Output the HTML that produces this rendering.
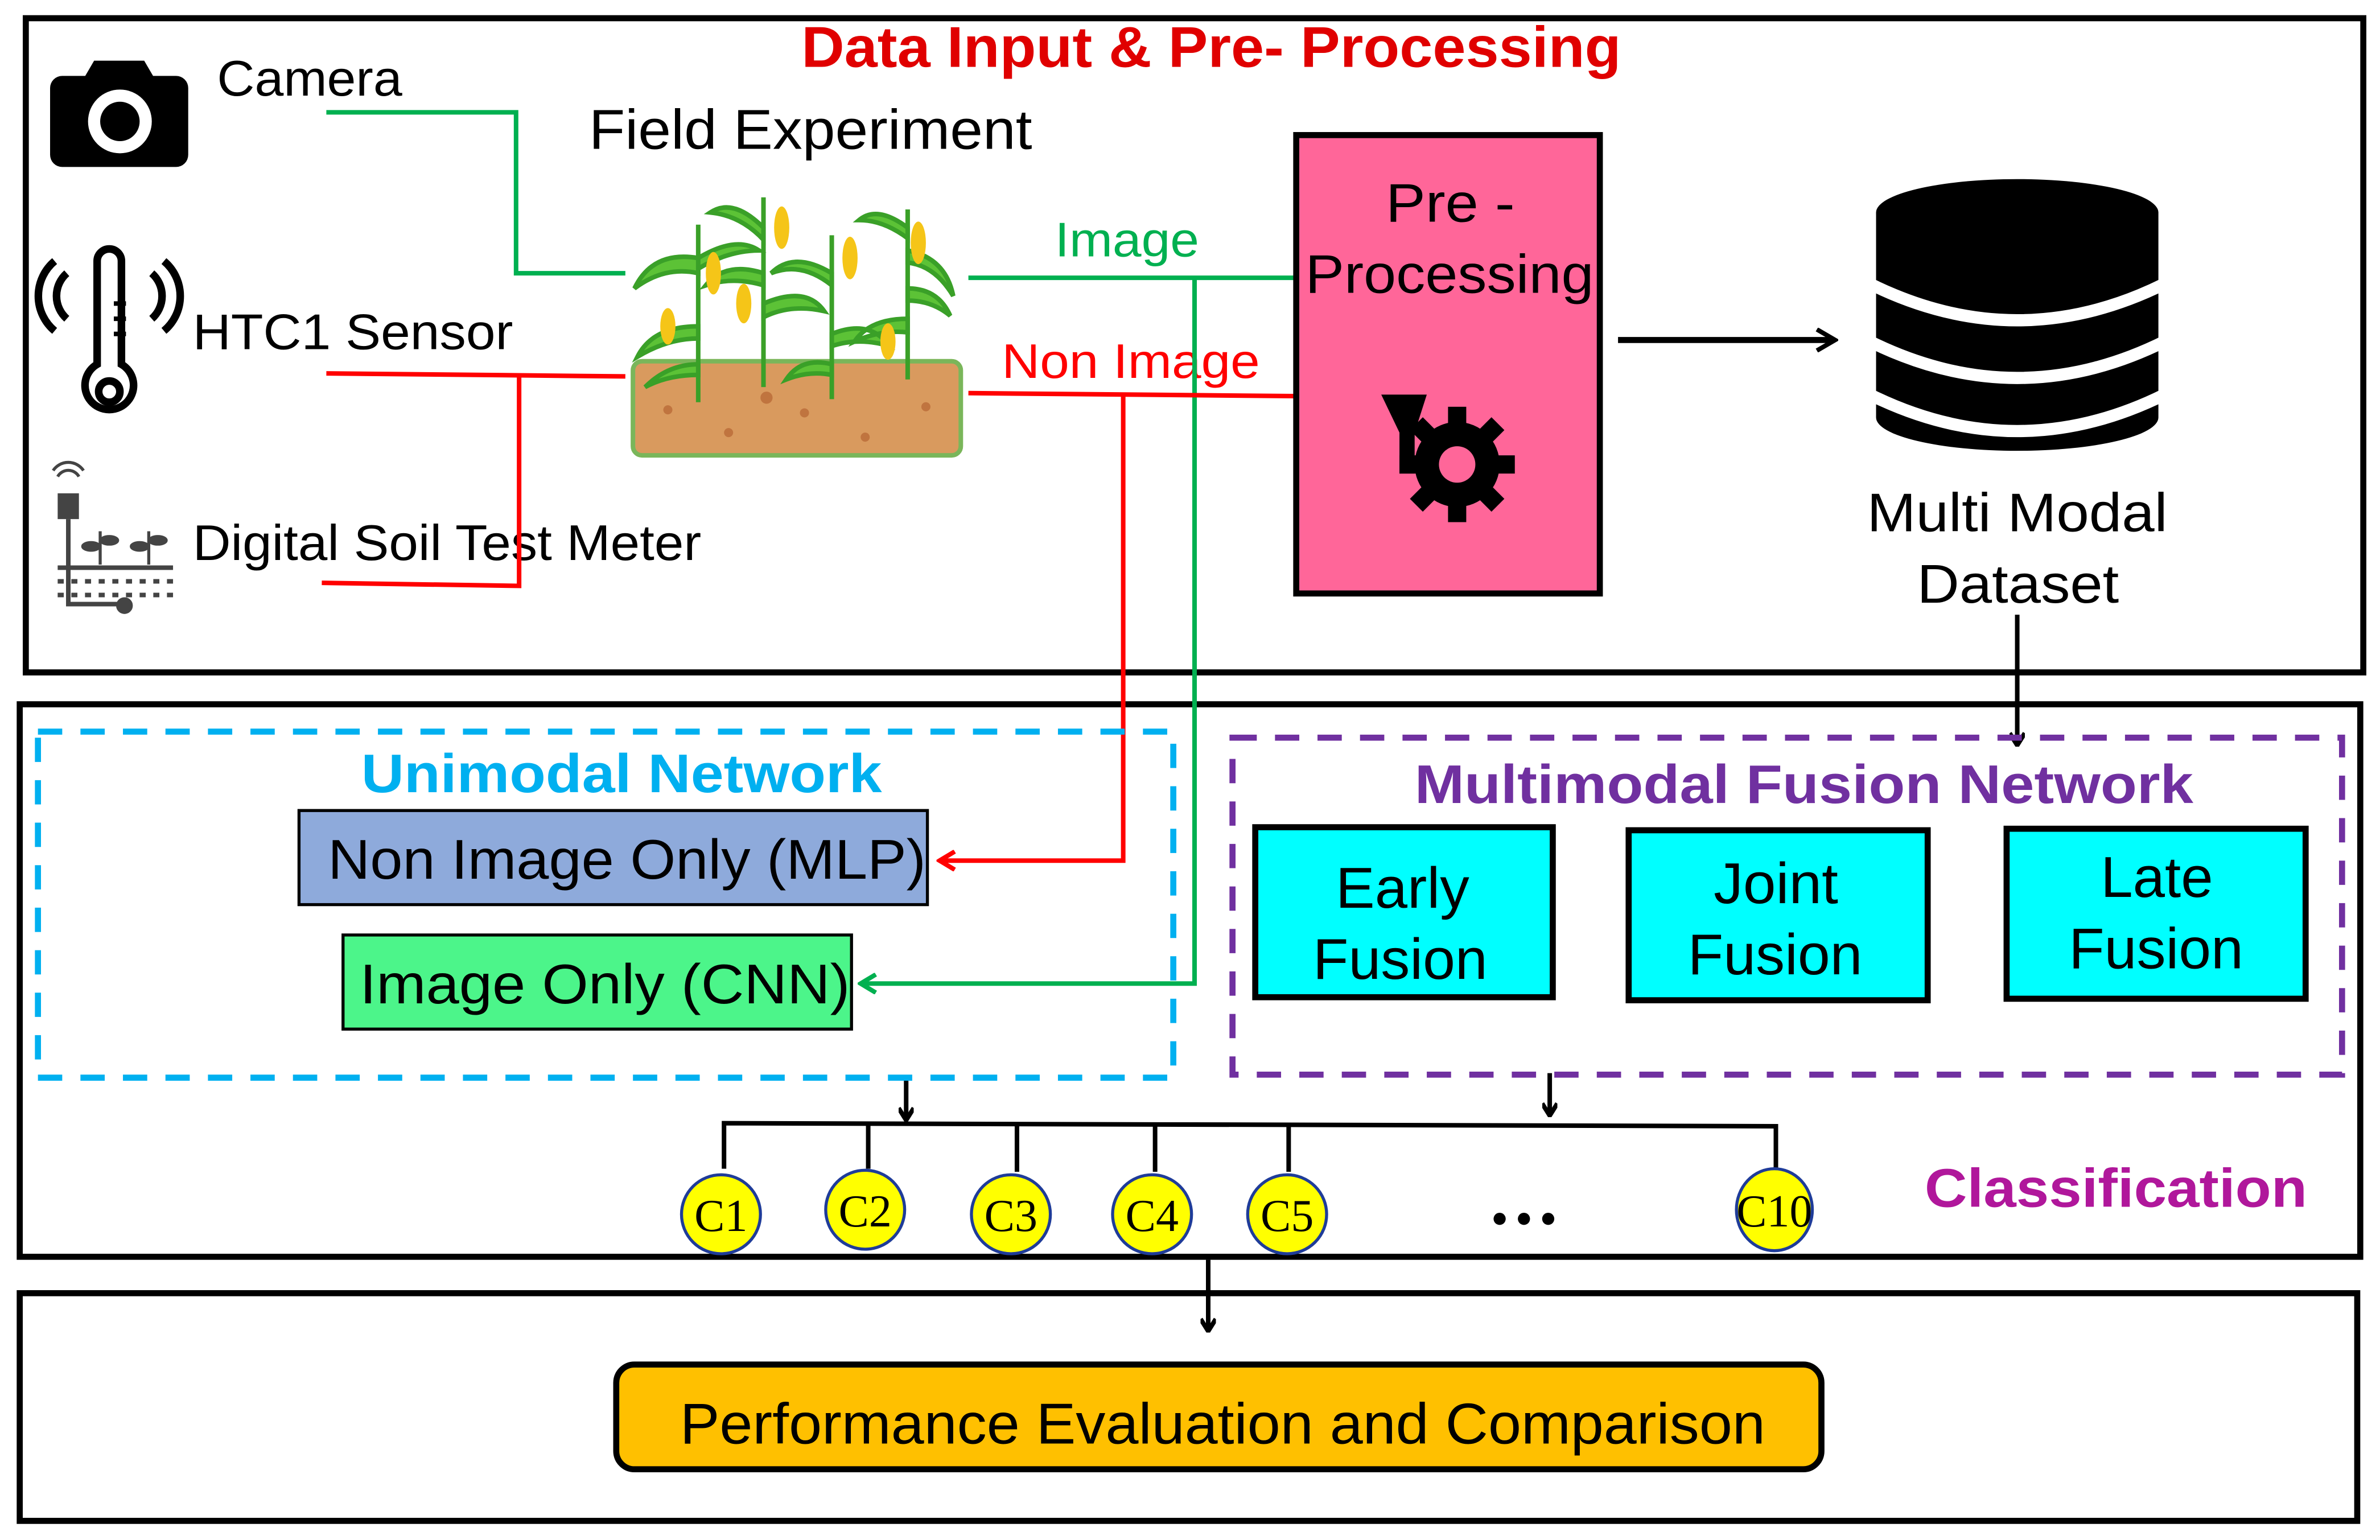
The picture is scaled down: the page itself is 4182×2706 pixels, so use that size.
<!DOCTYPE html>
<html><head><meta charset="utf-8"><style>
html,body{margin:0;padding:0;background:#fff}
svg{display:block}
</style></head><body>
<svg width="4182" height="2706" viewBox="0 0 1568 1014.6" preserveAspectRatio="none" xmlns="http://www.w3.org/2000/svg" font-family="'Liberation Sans', Arial, sans-serif">
<defs>
<marker id="ab" markerWidth="10" markerHeight="10" refX="8" refY="5" orient="auto" markerUnits="userSpaceOnUse"><path d="M1,0 L9,5 L1,10" fill="none" stroke="#000" stroke-width="3"/></marker>
<marker id="ar" markerWidth="14" markerHeight="14" refX="11" refY="7" orient="auto" markerUnits="userSpaceOnUse"><path d="M2,1 L12,7 L2,13" fill="none" stroke="#f00" stroke-width="3"/></marker>
<marker id="ag" markerWidth="14" markerHeight="14" refX="11" refY="7" orient="auto" markerUnits="userSpaceOnUse"><path d="M2,1 L12,7 L2,13" fill="none" stroke="#00b050" stroke-width="3"/></marker>
<marker id="ak" markerWidth="16" markerHeight="16" refX="13" refY="8" orient="auto" markerUnits="userSpaceOnUse"><path d="M2,1 L14,8 L2,15" fill="none" stroke="#000" stroke-width="3"/></marker>
</defs>
<rect x="17" y="12" width="1540" height="431" fill="none" stroke="#000" stroke-width="4"/>
<rect x="13" y="464" width="1542" height="364" fill="none" stroke="#000" stroke-width="4"/>
<rect x="13" y="852" width="1540" height="150" fill="none" stroke="#000" stroke-width="4"/>

<text x="528" y="44" font-size="38" font-weight="bold" fill="#e00000" textLength="540" lengthAdjust="spacingAndGlyphs">Data Input &amp; Pre- Processing</text>

<!-- camera -->
<rect x="33" y="50" width="91" height="60" rx="8" fill="#000"/>
<path d="M55,52 L62,40 L95,40 L102,52 Z" fill="#000"/>
<circle cx="79" cy="80" r="21" fill="#fff"/><circle cx="79" cy="80" r="13" fill="#000"/>
<text x="143" y="63" font-size="33" fill="#000" textLength="122" lengthAdjust="spacingAndGlyphs">Camera</text>
<text x="388" y="98" font-size="37" fill="#000" textLength="292" lengthAdjust="spacingAndGlyphs">Field Experiment</text>

<!-- thermometer -->
<g fill="none" stroke="#000" stroke-width="5">
<path d="M64,172 a8,8 0 0 1 16,0 v68 a16,16 0 1 1 -16,0 Z"/>
<circle cx="72" cy="258" r="7"/>
<path d="M44,180 a20,20 0 0 0 0,30 M36,172 a30,30 0 0 0 0,46 M100,180 a20,20 0 0 1 0,30 M108,172 a30,30 0 0 1 0,46"/>
</g>
<path d="M75,200h8M75,210h8M75,220h8" stroke="#000" stroke-width="3"/>
<text x="127" y="230" font-size="33" fill="#000" textLength="211" lengthAdjust="spacingAndGlyphs">HTC1 Sensor</text>

<!-- soil meter -->
<g fill="#444" stroke="#444">
<rect x="38" y="325" width="14" height="17" stroke="none"/>
<path d="M38,314 a8,8 0 0 1 14,0 M35,310 a12,12 0 0 1 20,0" fill="none" stroke-width="2"/>
<path d="M45,342 V398 H78" fill="none" stroke-width="3"/>
<circle cx="82" cy="399" r="5"/>
<path d="M38,374 H114" stroke-width="3"/>
<path d="M66,372 V350 M98,372 V350" stroke-width="2"/>
<ellipse cx="60" cy="360" rx="6" ry="3"/><ellipse cx="72" cy="356" rx="6" ry="3"/><ellipse cx="92" cy="360" rx="6" ry="3"/><ellipse cx="104" cy="356" rx="6" ry="3"/>
<path d="M38,383 H114 M38,392 H114" stroke-width="3" stroke-dasharray="4,5" fill="none"/>
</g>
<text x="127" y="369" font-size="33" fill="#000" textLength="335" lengthAdjust="spacingAndGlyphs">Digital Soil Test Meter</text>

<!-- plants -->
<rect x="417" y="238" width="216" height="62" rx="6" fill="#d99a5e" stroke="#7ab65a" stroke-width="3"/>
<g fill="#c0743f"><circle cx="440" cy="270" r="3"/><circle cx="480" cy="285" r="3"/><circle cx="530" cy="272" r="3"/><circle cx="570" cy="288" r="3"/><circle cx="610" cy="268" r="3"/><circle cx="505" cy="262" r="4"/></g>
<g stroke="#3aa028" stroke-width="3" fill="#5cc236">
<path d="M460,265 V148 M503,255 V130 M548,263 V155 M598,250 V138" fill="none"/>
<path d="M460,170 q-30,-5 -42,20 q20,-15 42,-10 Z M460,170 q25,-15 40,-5 q-20,0 -40,12 Z M460,215 q-30,0 -40,20 q20,-12 40,-12 Z M460,240 q-20,0 -35,15 q15,-8 35,-8 Z M503,150 q-20,-20 -35,-10 q20,2 35,18 Z M503,200 q28,-12 40,5 q-22,-5 -40,4 Z M503,180 q-25,-8 -38,8 q18,-6 38,0 Z M548,180 q-25,-15 -40,0 q20,-8 40,8 Z M548,220 q25,-10 38,8 q-20,-6 -38,0 Z M548,240 q-20,-5 -30,10 q15,-6 30,-3 Z M598,165 q25,5 30,30 q-12,-20 -30,-22 Z M598,210 q-25,0 -35,15 q18,-8 35,-6 Z M598,190 q20,0 28,18 q-12,-10 -28,-10 Z M598,150 q-20,-15 -32,-5 q16,0 32,12 Z"/>
</g>
<g fill="#f5c518"><ellipse cx="470" cy="180" rx="5" ry="14"/><ellipse cx="515" cy="150" rx="5" ry="14"/><ellipse cx="560" cy="170" rx="5" ry="14"/><ellipse cx="605" cy="160" rx="5" ry="14"/><ellipse cx="490" cy="200" rx="5" ry="13"/><ellipse cx="585" cy="225" rx="5" ry="12"/><ellipse cx="440" cy="215" rx="5" ry="12"/></g>

<!-- input connectors -->
<polyline points="215,74 340,74 340,180 412,180" fill="none" stroke="#00b050" stroke-width="3"/>
<polyline points="215,246 412,248" fill="none" stroke="#f00" stroke-width="3"/>
<polyline points="342,248 342,386 212,384" fill="none" stroke="#f00" stroke-width="3"/>

<text x="695" y="169" font-size="32" fill="#00b050" textLength="95" lengthAdjust="spacingAndGlyphs">Image</text>
<text x="660" y="249" font-size="32" fill="#f00" textLength="170" lengthAdjust="spacingAndGlyphs">Non Image</text>
<line x1="638" y1="183" x2="855" y2="183" stroke="#00b050" stroke-width="3"/>
<polyline points="787,183 787,648 568,648" fill="none" stroke="#00b050" stroke-width="3" marker-end="url(#ag)"/>
<line x1="638" y1="259" x2="857" y2="261" stroke="#f00" stroke-width="3"/>
<polyline points="740,260 740,567 620,567" fill="none" stroke="#f00" stroke-width="3" marker-end="url(#ar)"/>

<!-- preprocessing -->
<rect x="854" y="89" width="200" height="302" fill="#ff6699" stroke="#000" stroke-width="4"/>
<text x="913" y="146" font-size="36" fill="#000" textLength="85" lengthAdjust="spacingAndGlyphs">Pre -</text>
<text x="860" y="193" font-size="36" fill="#000" textLength="190" lengthAdjust="spacingAndGlyphs">Processing</text>
<path d="M910,260 H940 L932,285 V312 H922 V285 Z" fill="#000"/>
<g transform="translate(960,306)">
<circle r="28" fill="#000"/>
<g fill="#000"><rect x="-6" y="-38" width="12" height="76"/><rect x="-38" y="-6" width="76" height="12"/><rect x="-6" y="-38" width="12" height="76" transform="rotate(45)"/><rect x="-6" y="-38" width="12" height="76" transform="rotate(-45)"/></g>
<circle r="12" fill="#ff6699"/>
</g>
<line x1="1066" y1="224" x2="1208" y2="224" stroke="#000" stroke-width="4" marker-end="url(#ak)"/>

<!-- database -->
<g fill="#000">
<ellipse cx="1329" cy="140" rx="93" ry="22"/><rect x="1236" y="140" width="186" height="135"/><ellipse cx="1329" cy="275" rx="93" ry="22"/>
</g>
<g fill="none" stroke="#fff" stroke-width="8">
<path d="M1232,187 q97,48 194,0"/><path d="M1232,225 q97,48 194,0"/><path d="M1232,260 q97,48 194,0"/>
</g>
<text x="1230" y="350" font-size="36" fill="#000" textLength="198" lengthAdjust="spacingAndGlyphs">Multi Modal</text>
<text x="1263" y="397" font-size="36" fill="#000" textLength="133" lengthAdjust="spacingAndGlyphs">Dataset</text>
<line x1="1329" y1="405" x2="1329" y2="490" stroke="#000" stroke-width="3" marker-end="url(#ab)"/>

<!-- unimodal -->
<rect x="25" y="482" width="748" height="228" fill="none" stroke="#00b0f0" stroke-width="4" stroke-dasharray="16,12"/>
<text x="238" y="522" font-size="36" font-weight="bold" fill="#00b0f0" textLength="343" lengthAdjust="spacingAndGlyphs">Unimodal Network</text>
<rect x="197" y="534" width="414" height="62" fill="#8eaadb" stroke="#000" stroke-width="2"/>
<text x="216" y="579" font-size="37" fill="#000" textLength="394" lengthAdjust="spacingAndGlyphs">Non Image Only (MLP)</text>
<rect x="226" y="616" width="335" height="62" fill="#4cf58a" stroke="#000" stroke-width="2"/>
<text x="237" y="661" font-size="37" fill="#000" textLength="323" lengthAdjust="spacingAndGlyphs">Image Only (CNN)</text>

<!-- multimodal -->
<rect x="812" y="486" width="731" height="222" fill="none" stroke="#7030a0" stroke-width="4" stroke-dasharray="16,12"/>
<text x="932" y="529" font-size="36" font-weight="bold" fill="#7030a0" textLength="513" lengthAdjust="spacingAndGlyphs">Multimodal Fusion Network</text>
<g fill="#00ffff" stroke="#000" stroke-width="4">
<rect x="827" y="545" width="196" height="112"/><rect x="1073" y="547" width="197" height="112"/><rect x="1322" y="546" width="197" height="112"/>
</g>
<g font-size="38" fill="#000">
<text x="880" y="598" textLength="88" lengthAdjust="spacingAndGlyphs">Early</text><text x="865" y="645" textLength="115" lengthAdjust="spacingAndGlyphs">Fusion</text>
<text x="1129" y="595" textLength="82" lengthAdjust="spacingAndGlyphs">Joint</text><text x="1112" y="642" textLength="115" lengthAdjust="spacingAndGlyphs">Fusion</text>
<text x="1384" y="591" textLength="74" lengthAdjust="spacingAndGlyphs">Late</text><text x="1363" y="638" textLength="115" lengthAdjust="spacingAndGlyphs">Fusion</text>
</g>

<!-- classification -->
<line x1="597" y1="712" x2="597" y2="737" stroke="#000" stroke-width="3" marker-end="url(#ab)"/>
<line x1="1021" y1="707" x2="1021" y2="734" stroke="#000" stroke-width="3" marker-end="url(#ab)"/>
<polyline points="477,770 477,740 1170,742 1170,772" fill="none" stroke="#000" stroke-width="3"/>
<g stroke="#000" stroke-width="3"><line x1="572" y1="740" x2="572" y2="770"/><line x1="670" y1="740" x2="670" y2="772"/><line x1="761" y1="741" x2="761" y2="772"/><line x1="849" y1="741" x2="849" y2="772"/></g>
<g fill="#ffff00" stroke="#1f3c99" stroke-width="2">
<circle cx="475" cy="800" r="26"/><circle cx="570" cy="797" r="26"/><circle cx="666" cy="800" r="26"/><circle cx="759" cy="800" r="26"/><circle cx="848" cy="800" r="26"/><ellipse cx="1169" cy="797" rx="25" ry="27"/>
</g>
<g font-family="'Liberation Serif', 'Times New Roman', serif" font-size="30" fill="#000" text-anchor="middle">
<text x="475" y="811">C1</text><text x="570" y="808">C2</text><text x="666" y="811">C3</text><text x="759" y="811">C4</text><text x="848" y="811">C5</text><text x="1169" y="808" textLength="50" lengthAdjust="spacingAndGlyphs">C10</text>
</g>
<g fill="#000"><circle cx="988" cy="803" r="4"/><circle cx="1004" cy="803" r="4"/><circle cx="1020" cy="803" r="4"/></g>
<text x="1268" y="795" font-size="36" font-weight="bold" fill="#b0179b" textLength="252" lengthAdjust="spacingAndGlyphs">Classification</text>

<line x1="796" y1="830" x2="796" y2="876" stroke="#000" stroke-width="3" marker-end="url(#ab)"/>
<rect x="406" y="899" width="794" height="69" rx="12" fill="#ffc000" stroke="#000" stroke-width="4"/>
<text x="448" y="951" font-size="38" fill="#000" textLength="715" lengthAdjust="spacingAndGlyphs">Performance Evaluation and Comparison</text>
</svg>
</body></html>
